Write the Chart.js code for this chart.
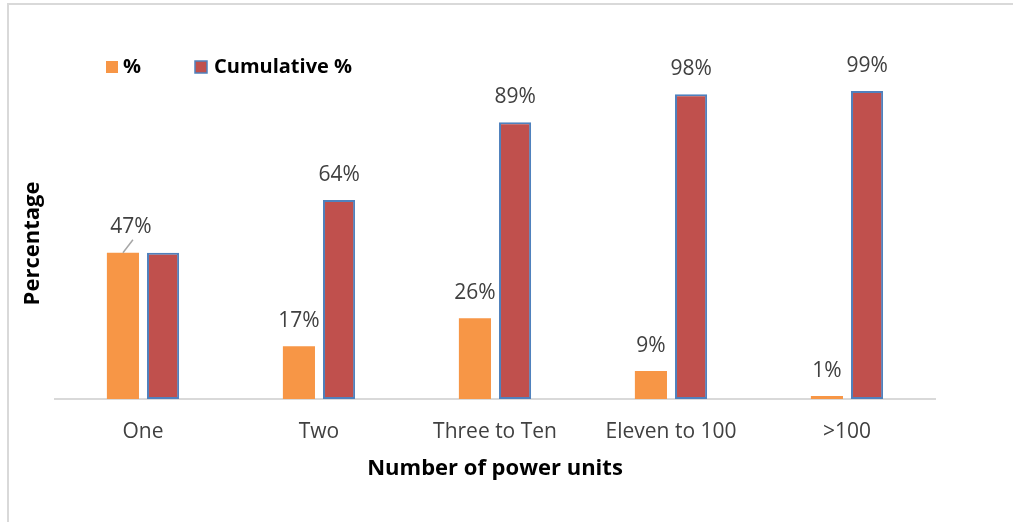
<!DOCTYPE html>
<html>
<head>
<meta charset="utf-8">
<script src="https://cdn.jsdelivr.net/npm/chart.js@4"></script>
<style>
  body { margin: 0; background: #fff; }
  #contenedor { position: relative; width: 1013px; height: 522px; }
</style>
</head>
<body>
<div id="contenedor"><canvas id="chartCanvas"></canvas></div>
<script>
const categorias = ["One", "Two", "Three to Ten", "Eleven to 100", ">100"];
const porcentaje = [47, 17, 26, 9, 1];
const acumulado = [47, 64, 89, 98, 99];
const etiquetasSerie = ["%", "Cumulative %"];

const naranja = "#F79646";
const rojo = "#C0504D";
const azul = "#4F81BD";
const gris = "#404040";
const fuente = "'Open Sans', sans-serif";

// marco gris claro, leyenda y etiquetas de datos
const extras = {
  id: "extras",
  beforeDraw(chart) {
    const ctx = chart.ctx;
    ctx.save();
    ctx.strokeStyle = "#d9d9d9";
    ctx.lineWidth = 2;
    ctx.beginPath();
    ctx.moveTo(8, 522);
    ctx.lineTo(8, 4);
    ctx.lineTo(1013, 4);
    ctx.stroke();
    ctx.restore();
  },
  afterDatasetsDraw(chart) {
    const ctx = chart.ctx;
    ctx.save();
    ctx.font = "21px " + fuente;
    ctx.fillStyle = gris;
    ctx.textAlign = "center";
    ctx.textBaseline = "middle";
    chart.data.datasets.forEach((ds, i) => {
      chart.getDatasetMeta(i).data.forEach((barra, j) => {
        // el primer acumulado repite el 47%, no se rotula
        if (i === 1 && j === 0) return;
        let x = barra.x;
        let y = barra.y - 25;
        if (i === 0 && j === 0) {
          // etiqueta desplazada con linea guia
          x = barra.x + 8;
          y = barra.y - 26;
          ctx.strokeStyle = "#a6a6a6";
          ctx.lineWidth = 1.5;
          ctx.beginPath();
          ctx.moveTo(barra.x, barra.y);
          ctx.lineTo(barra.x + 10, barra.y - 13);
          ctx.stroke();
        }
        ctx.fillText(ds.data[j] + "%", x, y);
      });
    });

    // leyenda
    ctx.font = "bold 20px " + fuente;
    ctx.textAlign = "left";
    ctx.fillStyle = naranja;
    ctx.fillRect(106, 61, 12, 12);
    ctx.fillStyle = "#000";
    ctx.fillText(etiquetasSerie[0], 123, 67);
    ctx.fillStyle = rojo;
    ctx.fillRect(195, 61, 12, 12);
    ctx.strokeStyle = azul;
    ctx.lineWidth = 1.5;
    ctx.strokeRect(195, 61, 12, 12);
    ctx.fillStyle = "#000";
    ctx.fillText(etiquetasSerie[1], 214, 67);
    ctx.restore();
  }
};

const ctx = document.getElementById("chartCanvas").getContext("2d");

window.myChart = new Chart(ctx, {
  type: "bar",
  data: {
    labels: categorias,
    datasets: [
      {
        label: etiquetasSerie[0],
        data: porcentaje,
        backgroundColor: naranja,
        borderWidth: 0,
        barPercentage: 0.8,
        categoryPercentage: 0.456,
      },
      {
        label: etiquetasSerie[1],
        data: acumulado,
        backgroundColor: rojo,
        borderColor: azul,
        borderWidth: 2,
        borderSkipped: false,
        barPercentage: 0.8,
        categoryPercentage: 0.456,
      },
    ],
  },
  options: {
    responsive: true,
    maintainAspectRatio: false,
    animation: false,
    layout: { padding: { top: 88, right: 78, left: 0, bottom: 0 } },
    plugins: {
      legend: { display: false },
      tooltip: { enabled: false },
    },
    scales: {
      x: {
        grid: { display: false, drawTicks: false },
        border: { color: "#d9d9d9", width: 2 },
        ticks: { color: gris, font: { family: fuente, size: 21 }, padding: 20 },
        title: {
          display: true,
          text: "Number of power units",
          color: "#000",
          font: { family: fuente, size: 22, weight: "bold" },
          padding: { bottom: 40 },
        },
        afterFit(escala) { escala.height = 123; },
      },
      y: {
        min: 0,
        max: 100,
        grid: { display: false, drawTicks: false },
        border: { display: false },
        ticks: { display: false },
        title: {
          display: true,
          text: "Percentage",
          color: "#000",
          font: { family: fuente, size: 22, weight: "bold" },
          padding: { top: 20 },
        },
        afterFit(escala) { escala.width = 55; },
      },
    },
  },
  plugins: [extras],
});
</script>
</body>
</html>
